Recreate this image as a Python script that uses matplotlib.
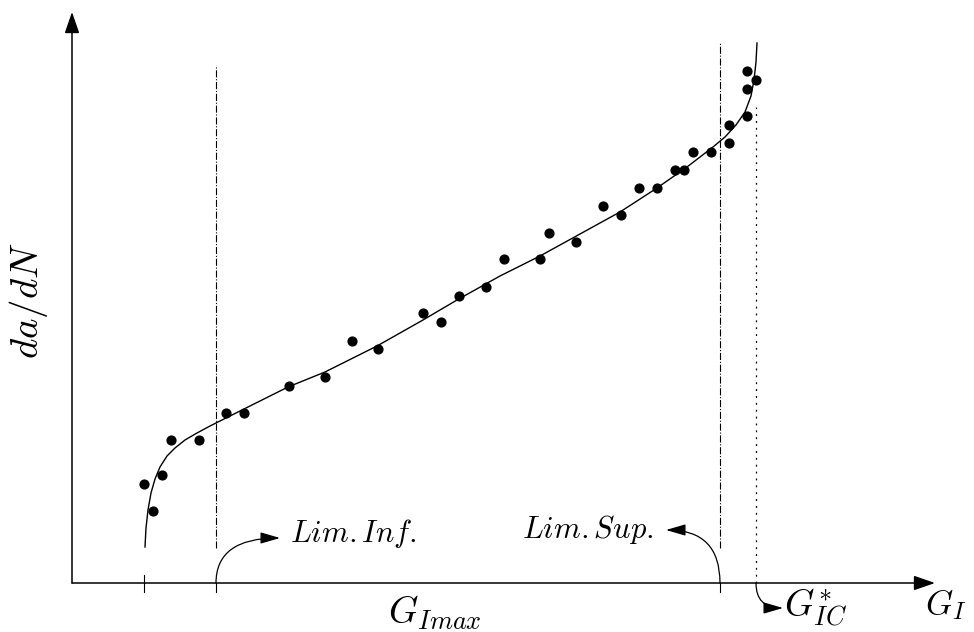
import matplotlib
matplotlib.use("Agg")
import matplotlib.pyplot as plt

plt.rcParams["mathtext.fontset"] = "cm"

# measured points (G_I, da/dN), arbitrary units
g_pts = [0.72, 0.81, 0.90, 0.99, 1.27, 1.54, 1.72, 2.17, 2.53, 2.80, 3.06,
         3.51, 3.69, 3.87, 4.14, 4.32, 4.68, 4.77, 5.04, 5.31, 5.49, 5.67,
         5.85, 6.03, 6.12, 6.21, 6.39, 6.57, 6.57, 6.75, 6.75, 6.75, 6.84]
rate_pts = [0.99, 0.72, 1.08, 1.43, 1.43, 1.70, 1.70, 1.97, 2.06, 2.42, 2.34,
            2.70, 2.61, 2.87, 2.96, 3.24, 3.24, 3.50, 3.41, 3.77, 3.68, 3.95,
            3.95, 4.13, 4.13, 4.31, 4.31, 4.58, 4.40, 4.67, 4.94, 5.12, 5.03]

# fitted curve
g_fit = [0.73, 0.74, 0.76, 0.79, 0.83, 0.88, 0.95, 1.03, 1.13, 1.25, 1.38,
         1.50, 1.64, 1.78, 2.16, 2.53, 3.05, 3.51, 3.85, 4.28, 4.68, 5.08,
         5.48, 5.85, 6.15, 6.41, 6.53, 6.64, 6.73, 6.79, 6.82, 6.84, 6.85]
rate_fit = [0.36, 0.55, 0.73, 0.90, 1.04, 1.16, 1.27, 1.35, 1.43, 1.50, 1.57,
            1.63, 1.70, 1.77, 1.96, 2.11, 2.37, 2.63, 2.83, 3.07, 3.27, 3.49,
            3.71, 3.95, 4.16, 4.36, 4.46, 4.58, 4.71, 4.87, 5.03, 5.21, 5.40]

# limits
g_start = 0.72
lim_inf = 1.44
lim_sup = 6.48
g_ic = 6.84

fig = plt.figure(figsize=(9.74, 6.32), dpi=100)
ax = fig.add_axes([0, 0, 1, 1])
ax.set_xlim(-0.72, 9.02)
ax.set_ylim(-0.49, 5.83)
ax.axis("off")

# axes with arrows
ax.annotate("", xy=(8.63, 0), xytext=(0, 0),
            arrowprops=dict(arrowstyle="-|>,head_length=1.3,head_width=0.45",
                            lw=1.1, color="black", shrinkA=0, shrinkB=0))
ax.annotate("", xy=(0, 5.71), xytext=(0, 0),
            arrowprops=dict(arrowstyle="-|>,head_length=1.3,head_width=0.45",
                            lw=1.1, color="black", shrinkA=0, shrinkB=0))

# curve and points
ax.plot(g_fit, rate_fit, color="black", lw=1.0)
ax.scatter(g_pts, rate_pts, s=40, color="black", zorder=3)

# vertical limit lines
ax.plot([lim_inf, lim_inf], [0.35, 5.18], color="black", lw=0.8, ls="-.")
ax.plot([lim_sup, lim_sup], [0.35, 5.40], color="black", lw=0.8, ls="-.")
ax.plot([g_ic, g_ic], [0, 4.76], color="black", lw=0.9, ls=(0, (1.5, 4)))

# ticks under the axis
for g in [g_start, lim_inf, lim_sup]:
    ax.plot([g, g], [-0.09, 0], color="black", lw=0.8)
ax.plot([g_start, g_start], [0, 0.08], color="black", lw=0.8)

# curved arrows to labels
arr = dict(arrowstyle="-|>,head_length=1.2,head_width=0.35", lw=0.9,
           color="black", shrinkA=0, shrinkB=0)
ax.annotate("", xy=(2.08, 0.45), xytext=(lim_inf, 0),
            arrowprops=dict(arr, connectionstyle="angle3,angleA=90,angleB=0"))
ax.annotate("", xy=(5.94, 0.53), xytext=(lim_sup, 0),
            arrowprops=dict(arr, connectionstyle="angle3,angleA=90,angleB=0"))
ax.annotate("", xy=(7.11, -0.25), xytext=(g_ic, 0),
            arrowprops=dict(arr, connectionstyle="angle3,angleA=-90,angleB=0"))

# labels
ax.text(2.18, 0.50, r"$Lim{.}Inf{.}$", fontsize=22, va="center", ha="left")
ax.text(5.82, 0.53, r"$Lim{.}Sup{.}$", fontsize=22, va="center", ha="right")
ax.text(7.12, -0.25, r"$G_{IC}^{*}$", fontsize=27, va="center", ha="left")
ax.text(8.53, -0.22, r"$G_I$", fontsize=25, va="center", ha="left")
ax.text(3.63, -0.30, r"$G_{Imax}$", fontsize=27, va="center", ha="center")
ax.text(-0.43, 2.82, r"$da/dN$", fontsize=28, va="center", ha="center",
        rotation=90)

fig.savefig("out.png", dpi=100)
